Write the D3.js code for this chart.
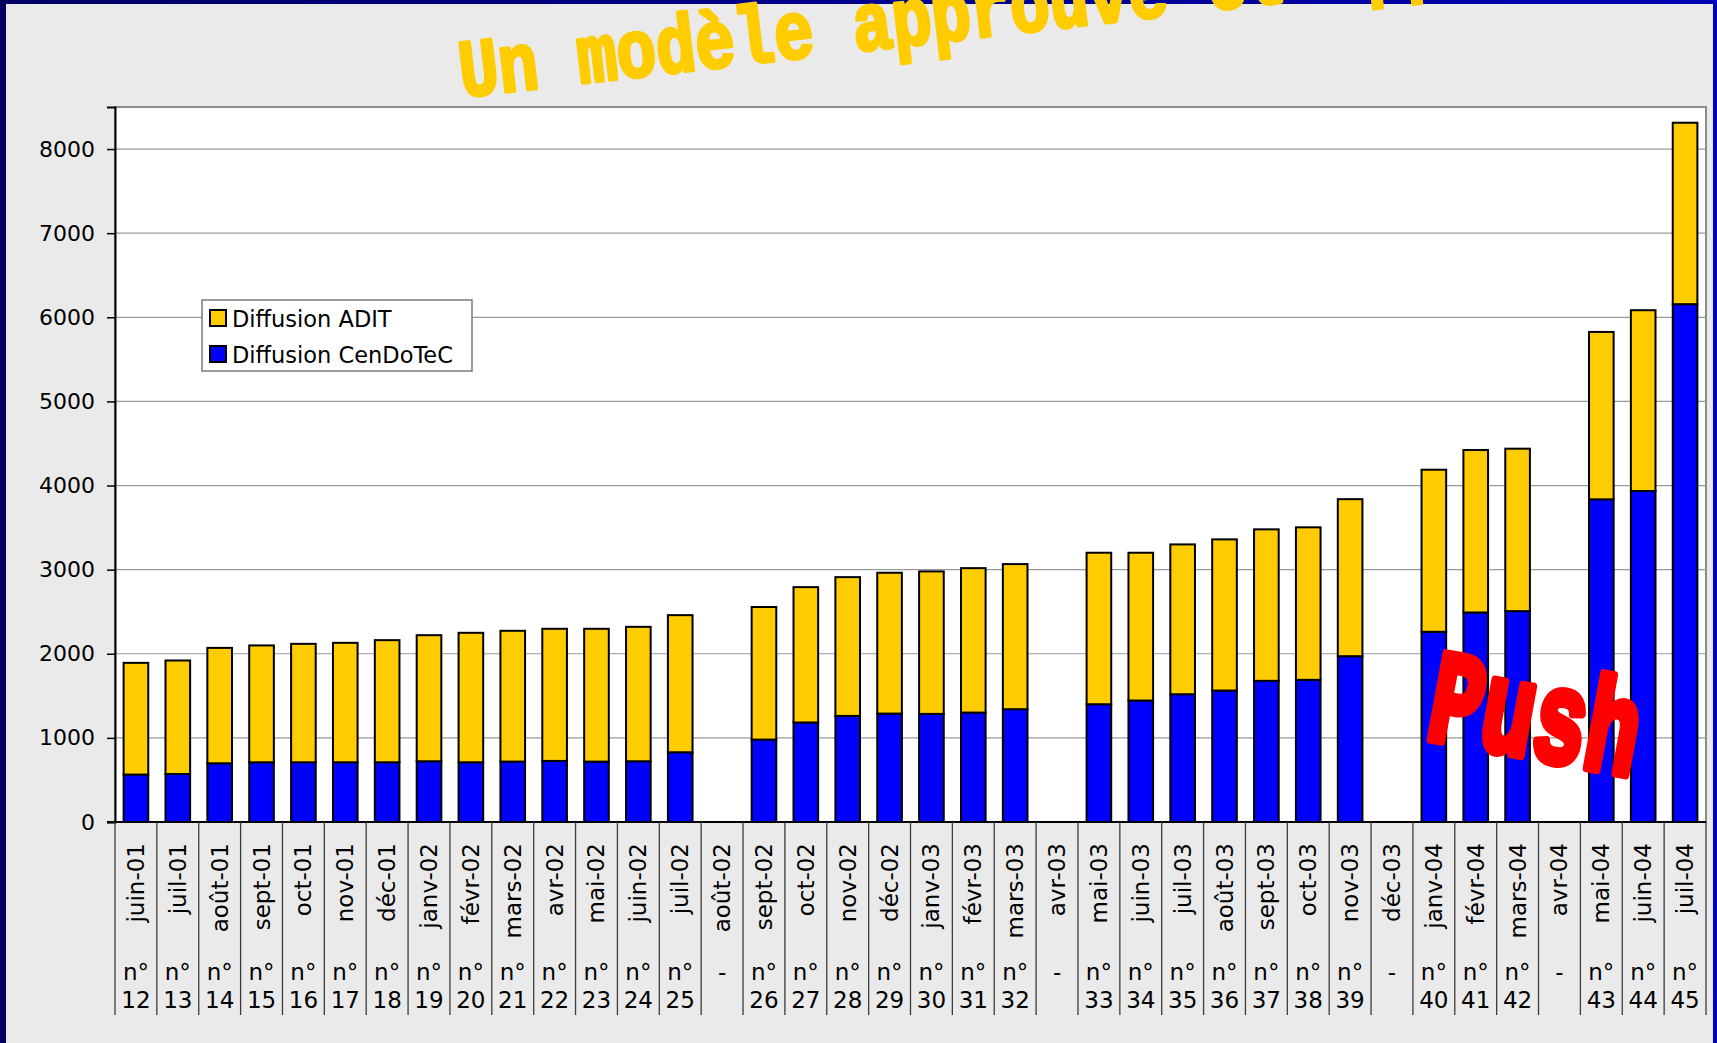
<!DOCTYPE html>
<html lang="fr">
<head>
<meta charset="utf-8">
<title>Diffusion ADIT / CenDoTeC</title>
<script src="https://cdn.jsdelivr.net/npm/d3@7"></script>
<style>
  html, body { margin: 0; padding: 0; background: #eaeaea; }
  svg { display: block; }
  .wordart { font-family: "Liberation Mono", "Courier New", Courier, monospace; }
</style>
</head>
<body>
<svg id="chart" width="1717" height="1043"></svg>
<script>
// Mois de parution et numéros du bulletin
const months = ["juin-01","juil-01","août-01","sept-01","oct-01","nov-01","déc-01",
  "janv-02","févr-02","mars-02","avr-02","mai-02","juin-02","juil-02","août-02",
  "sept-02","oct-02","nov-02","déc-02","janv-03","févr-03","mars-03","avr-03",
  "mai-03","juin-03","juil-03","août-03","sept-03","oct-03","nov-03","déc-03",
  "janv-04","févr-04","mars-04","avr-04","mai-04","juin-04","juil-04"];
const issues = ["12","13","14","15","16","17","18","19","20","21","22","23","24","25",null,
  "26","27","28","29","30","31","32",null,"33","34","35","36","37","38","39",null,
  "40","41","42",null,"43","44","45"];

// Diffusion par canal (null = pas de numéro ce mois-là)
const cendotec = [564,571,698,710,710,710,710,722,710,718,726,718,722,829,null,
  980,1183,1261,1289,1285,1301,1341,null,1400,1444,1519,1563,1678,1690,1971,null,
  2261,2491,2507,null,3836,3935,6156];
const adit = [1328,1349,1372,1389,1408,1420,1452,1499,1539,1555,1571,1579,1598,1630,null,
  1576,1609,1650,1674,1694,1717,1725,null,1801,1757,1781,1797,1801,1813,1867,null,
  1927,1931,1931,null,1990,2149,2157];

const yTicks = [0,1000,2000,3000,4000,5000,6000,7000,8000];
const seriesNames = ["Diffusion CenDoTeC","Diffusion ADIT"];
const seriesColors = ["#0000ff","#ffcc00"];

const svg = d3.select("#chart");
const W = 1717, H = 1043;

// Fond et cadre de la diapositive
const defs = svg.append("defs");
const grad = defs.append("linearGradient").attr("id","topBar");
grad.append("stop").attr("offset","0%").attr("stop-color","#000066");
grad.append("stop").attr("offset","100%").attr("stop-color","#0000b4");
svg.append("rect").attr("width",W).attr("height",H).attr("fill","#eaeaea");
svg.append("rect").attr("x",0).attr("y",0).attr("width",W).attr("height",4).attr("fill","url(#topBar)");
svg.append("rect").attr("x",0).attr("y",0).attr("width",6).attr("height",H).attr("fill","#000062");
svg.append("rect").attr("x",W-4).attr("y",0).attr("width",4).attr("height",H).attr("fill","#0000c4");

const plot = { left: 115, right: 1706, top: 107, bottom: 822 };

const x = d3.scaleBand().domain(months).range([plot.left, plot.right]).padding(0);
const y = d3.scaleLinear().domain([0, 8500]).range([plot.bottom, plot.top]);
const barW = x.bandwidth() / 1.7;

// Zone de tracé
svg.append("rect")
  .attr("x", plot.left).attr("y", plot.top)
  .attr("width", plot.right - plot.left).attr("height", plot.bottom - plot.top)
  .attr("fill", "#ffffff").attr("stroke", "#8c8c8c").attr("stroke-width", 2);

// Quadrillage horizontal
svg.append("g").selectAll("line").data(yTicks.filter(d => d > 0)).join("line")
  .attr("x1", plot.left).attr("x2", plot.right)
  .attr("y1", d => y(d)).attr("y2", d => y(d))
  .attr("stroke", "#9a9a9a").attr("stroke-width", 1.2);

// Barres empilées
const rows = months.map((m, i) => ({ month: m, c: cendotec[i] || 0, a: adit[i] || 0, has: cendotec[i] != null }));
const stack = d3.stack().keys(["c","a"]);
const layers = stack(rows);

svg.append("g").selectAll("g").data(layers).join("g")
  .attr("fill", (d, i) => seriesColors[i])
  .selectAll("rect").data(d => d.filter(p => p.data.has)).join("rect")
    .attr("x", p => x(p.data.month) + (x.bandwidth() - barW) / 2)
    .attr("width", barW)
    .attr("y", p => y(p[1]))
    .attr("height", p => y(p[0]) - y(p[1]))
    .attr("stroke", "#000").attr("stroke-width", 2);

// Axe vertical
const yAxis = svg.append("g").attr("transform", `translate(${plot.left},0)`)
  .call(d3.axisLeft(y).tickValues(yTicks).tickSize(8).tickPadding(12).tickFormat(d3.format("d")));
yAxis.select(".domain").attr("stroke", "#000").attr("stroke-width", 2);
yAxis.selectAll(".tick line").attr("stroke", "#000").attr("stroke-width", 1.5);
yAxis.selectAll("text").attr("font-family", "DejaVu Sans, Verdana, sans-serif")
  .attr("font-size", 22).attr("fill", "#000");

// Axe horizontal et tableau des catégories
svg.append("line").attr("x1", plot.left - 8).attr("x2", plot.right)
  .attr("y1", plot.bottom).attr("y2", plot.bottom)
  .attr("stroke", "#000").attr("stroke-width", 2);

const dividers = months.map(m => x(m)).concat([plot.right]);
svg.append("g").selectAll("line").data(dividers).join("line")
  .attr("x1", d => d).attr("x2", d => d)
  .attr("y1", plot.bottom).attr("y2", 1015)
  .attr("stroke", "#3c3c3c").attr("stroke-width", 1.3);

const cat = svg.append("g").attr("font-family", "DejaVu Sans, Verdana, sans-serif")
  .attr("font-size", 23).attr("fill", "#000");

cat.selectAll("text.month").data(months).join("text")
  .attr("class", "month")
  .attr("transform", m => `translate(${x(m) + x.bandwidth() / 2 + 8},843) rotate(-90)`)
  .attr("text-anchor", "end")
  .text(m => m);

cat.selectAll("text.num").data(months).join("text")
  .attr("class", "num")
  .attr("x", m => x(m) + x.bandwidth() / 2)
  .attr("y", 980)
  .attr("text-anchor", "middle")
  .each(function (m, i) {
    const t = d3.select(this);
    if (issues[i] == null) {
      t.text("-");
    } else {
      t.append("tspan").attr("x", x(m) + x.bandwidth() / 2).text("n°");
      t.append("tspan").attr("x", x(m) + x.bandwidth() / 2).attr("dy", 28).text(issues[i]);
    }
  });

// Légende
const legend = svg.append("g").attr("transform", "translate(202,300)");
legend.append("rect").attr("width", 270).attr("height", 71)
  .attr("fill", "#fff").attr("stroke", "#7a7a7a").attr("stroke-width", 1.5);
const legendItems = [
  { name: seriesNames[1], color: seriesColors[1] },
  { name: seriesNames[0], color: seriesColors[0] }
];
const li = legend.selectAll("g").data(legendItems).join("g")
  .attr("transform", (d, i) => `translate(0,${i * 36})`);
li.append("rect").attr("x", 8).attr("y", 10).attr("width", 16).attr("height", 16)
  .attr("fill", d => d.color).attr("stroke", "#000").attr("stroke-width", 2);
li.append("text").attr("x", 30).attr("y", 27)
  .attr("font-family", "DejaVu Sans, Verdana, sans-serif").attr("font-size", 22.5)
  .attr("fill", "#000").text(d => d.name);

// Titre incliné (volontairement coupé par le haut de la diapositive)
svg.append("text").attr("class", "wordart")
  .attr("transform", "translate(462,97) rotate(-6.6) scale(1,1.24)")
  .attr("font-size", 66).attr("font-weight", "bold")
  .attr("fill", "#ffcc00").attr("stroke", "#ffcc00")
  .attr("stroke-width", 3).attr("stroke-linejoin", "round").attr("stroke-linecap", "round")
  .text("Un modèle approuvé et apprécié");

// Mention « Push »
svg.append("text").attr("class", "wordart")
  .attr("transform", "translate(1424,738) rotate(10.4) scale(1,1.5)")
  .attr("font-size", 88).attr("font-weight", "bold")
  .attr("fill", "#ff0000").attr("stroke", "#ff0000")
  .attr("stroke-width", 6).attr("stroke-linejoin", "round").attr("stroke-linecap", "round")
  .text("Push");
</script>
</body>
</html>
